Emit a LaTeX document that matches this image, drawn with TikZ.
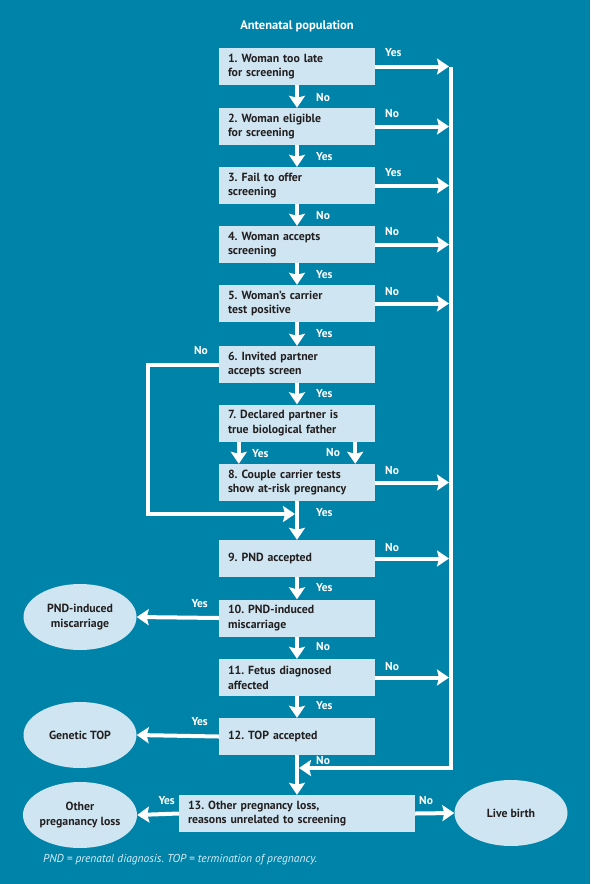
\documentclass[tikz,border=0pt]{standalone}
\usepackage{fontspec}
\setmainfont{PT Sans}
\usetikzlibrary{arrows.meta,shapes.geometric}
\frenchspacing
\definecolor{bgteal}{HTML}{0083A9}
\definecolor{boxblue}{HTML}{CFE6F2}
\definecolor{inkdark}{HTML}{231F20}
\definecolor{footblue}{HTML}{D8EEF6}

\tikzset{
  stepbox/.style={fill=boxblue, text=inkdark, font=\bfseries\fontsize{11.8}{14.8}\selectfont,
    text width=138pt, inner xsep=9pt, inner ysep=0pt, minimum height=37pt, align=left},
  outcome/.style={ellipse, fill=boxblue, text=inkdark, font=\bfseries\fontsize{11.8}{14.8}\selectfont,
    minimum width=113pt, minimum height=66pt, inner sep=0pt, align=center},
  arr/.style={draw=white, line width=4pt, line join=miter, -{Stealth[length=12pt,width=16pt,inset=2pt]}},
  lbl/.style={text=white, font=\bfseries\fontsize{11.5}{13}\selectfont, inner sep=0pt},
}

\begin{document}
\begin{tikzpicture}[x=1pt,y=-1pt]
\fill[bgteal] (0,0) rectangle (590,884);

% title
\node[lbl, font=\bfseries\fontsize{12.5}{14}\selectfont] (head) at (297,26) {Antenatal population};

% main column
\node[stepbox] (b1) at (297,66.5) {1. Woman too late\\for screening};
\node[stepbox] (b2) at (297,126.5) {2. Woman eligible\\for screening};
\node[stepbox] (b3) at (297,185.5) {3. Fail to offer\\screening};
\node[stepbox] (b4) at (297,244.5) {4. Woman accepts\\screening};
\node[stepbox] (b5) at (297,303.5) {5. Woman's carrier\\test positive};
\node[stepbox] (b6) at (297,364.5) {6. Invited partner\\accepts screen};
\node[stepbox] (b7) at (297,423) {7. Declared partner is\\true biological father};
\node[stepbox] (b8) at (297,482.5) {8. Couple carrier tests\\show at-risk pregnancy};
\node[stepbox] (b9) at (297,558.5) {9. PND accepted};
\node[stepbox] (b10) at (297,618) {10. PND-induced\\miscarriage};
\node[stepbox] (b11) at (297,677.5) {11. Fetus diagnosed\\affected};
\node[stepbox] (b12) at (297,736.5) {12. TOP accepted};
\node[stepbox, text width=218pt] (b13) at (297,813.5) {13. Other pregnancy loss,\\reasons unrelated to screening};

% outcomes
\node[outcome] (e10) at (80,617) {PND-induced\\miscarriage};
\node[outcome] (e12) at (80,735) {Genetic TOP};
\node[outcome] (e13) at (80,815) {Other\\preganancy loss};
\node[outcome] (live) at (511,813) {Live birth};

% helper points
\coordinate (railtop) at (451,66.5);
\coordinate (railbot) at (451,768);
\coordinate (loopcorner) at (148,514);
\coordinate (join8) at (297,514);
\coordinate (join12) at (297,768);

% downward arrows
\draw[arr] (b1.south) -- (b2.north);
\draw[arr] (b2.south) -- (b3.north);
\draw[arr] (b3.south) -- (b4.north);
\draw[arr] (b4.south) -- (b5.north);
\draw[arr] (b5.south) -- (b6.north);
\draw[arr] (b6.south) -- (b7.north);
\draw[arr] ([xshift=20pt]b7.south west) -- ([xshift=20pt]b8.north west);
\draw[arr] ([xshift=-20pt]b7.south east) -- ([xshift=-20pt]b8.north east);
\draw[arr] (b8.south) -- (b9.north);
\draw[arr] (b9.south) -- (b10.north);
\draw[arr] (b10.south) -- (b11.north);
\draw[arr] (b11.south) -- (b12.north);
\draw[arr] (b12.south) -- (b13.north);

% right rail
\draw[arr, shorten >=2pt] (railtop) -- (railbot) -- (join12);
\draw[arr, shorten >=2pt] (b1.east) -- (b1.east -| railtop);
\draw[arr, shorten >=2pt] (b2.east) -- (b2.east -| railtop);
\draw[arr, shorten >=2pt] (b3.east) -- (b3.east -| railtop);
\draw[arr, shorten >=2pt] (b4.east) -- (b4.east -| railtop);
\draw[arr, shorten >=2pt] (b5.east) -- (b5.east -| railtop);
\draw[arr, shorten >=2pt] (b8.east) -- (b8.east -| railtop);
\draw[arr, shorten >=2pt] (b9.east) -- (b9.east -| railtop);
\draw[arr, shorten >=2pt] (b11.east) -- (b11.east -| railtop);

% left loop from 6
\draw[arr, shorten >=2pt] (b6.west) -| (loopcorner) -- (join8);

% to outcomes
\draw[arr] (b10.west) -- (e10.east);
\draw[arr] (b12.west) -- (e12.east);
\draw[arr] (b13.west) -- (e13.east);
\draw[arr] (b13.east) -- (live.west);

% labels on down arrows
\node[lbl, anchor=west] (d1) at (316,98) {No};
\node[lbl, anchor=west] (d2) at (316,157) {Yes};
\node[lbl, anchor=west] (d3) at (316,216) {No};
\node[lbl, anchor=west] (d4) at (316,275) {Yes};
\node[lbl, anchor=west] (d5) at (316,334) {Yes};
\node[lbl, anchor=west] (d6) at (316,394) {Yes};
\node[lbl, anchor=west] (d7y) at (252,454) {Yes};
\node[lbl, anchor=west] (d7n) at (326,453) {No};
\node[lbl, anchor=west] (d8) at (316,513) {Yes};
\node[lbl, anchor=west] (d9) at (316,588) {Yes};
\node[lbl, anchor=west] (d10) at (316,647) {No};
\node[lbl, anchor=west] (d11) at (316,706) {Yes};
\node[lbl, anchor=west] (d12) at (316,761) {No};

% labels on right arrows
\node[lbl, anchor=west] (r1) at (385,53) {Yes};
\node[lbl, anchor=west] (r2) at (385,114) {No};
\node[lbl, anchor=west] (r3) at (385,173) {Yes};
\node[lbl, anchor=west] (r4) at (385,232) {No};
\node[lbl, anchor=west] (r5) at (385,292) {No};
\node[lbl, anchor=west] (r8) at (385,471) {No};
\node[lbl, anchor=west] (r9) at (385,548) {No};
\node[lbl, anchor=west] (r11) at (385,667) {No};
\node[lbl, anchor=west] (r13) at (419,801) {No};

% labels on left arrows
\node[lbl, anchor=east] (l6) at (208,351) {No};
\node[lbl, anchor=east] (l10) at (208,604) {Yes};
\node[lbl, anchor=east] (l12) at (208,722) {Yes};
\node[lbl, anchor=east] (l13) at (175,801) {Yes};

% footnote
\node[anchor=west, inner sep=0pt, text=footblue, font=\itshape\fontsize{11.5}{13}\selectfont] (foot) at (43,860)
  {PND = prenatal diagnosis. TOP = termination of pregnancy.};
\end{tikzpicture}
\end{document}
